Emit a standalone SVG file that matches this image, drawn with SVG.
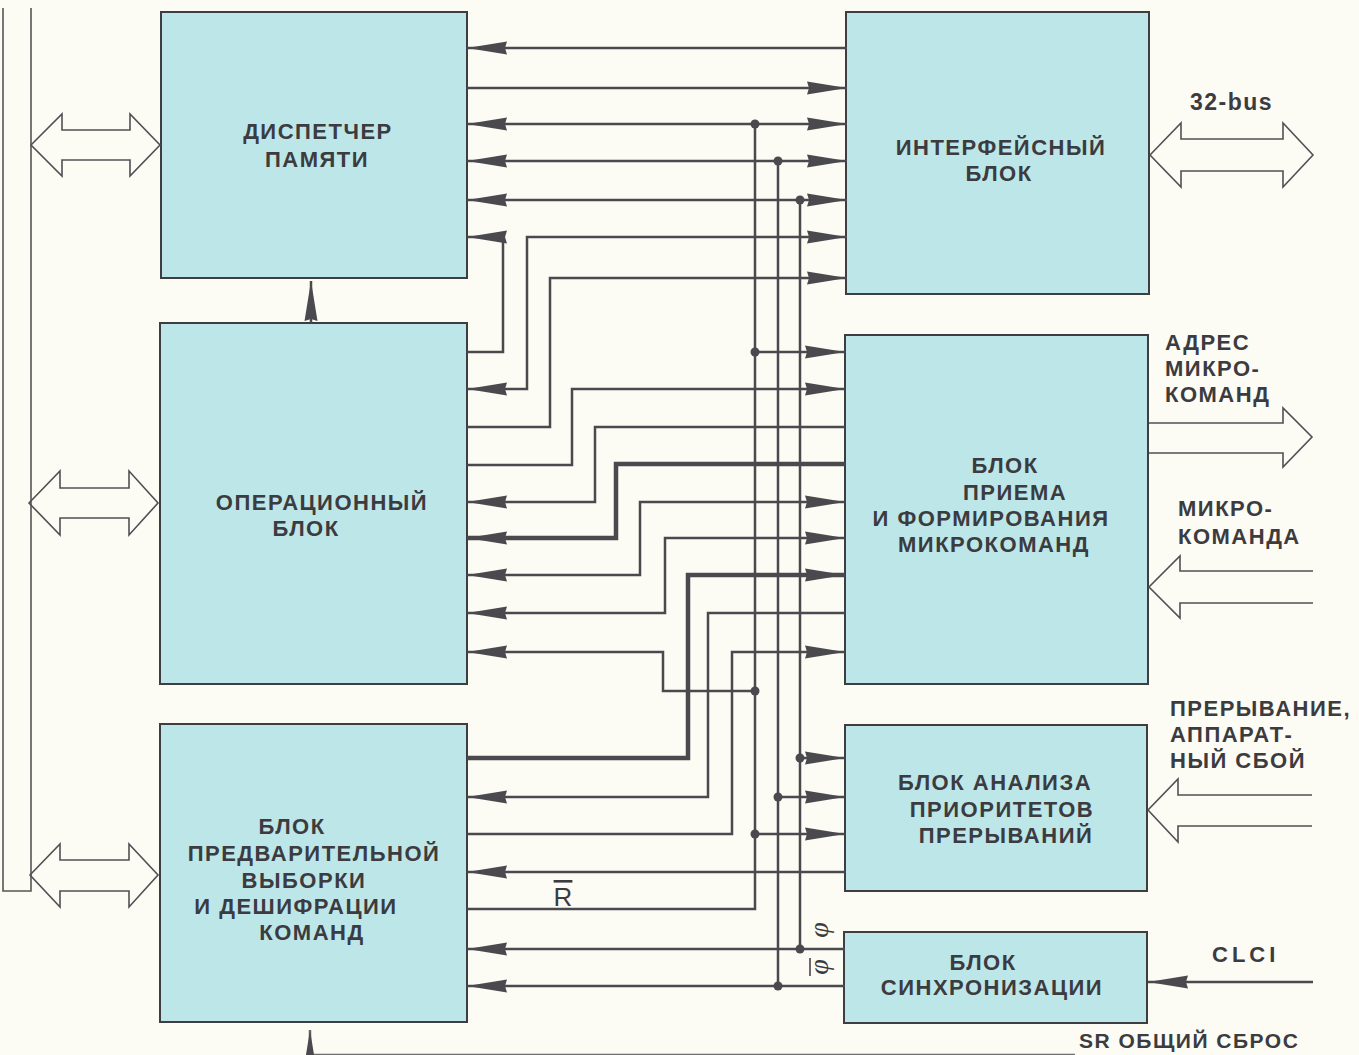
<svg xmlns="http://www.w3.org/2000/svg" width="1359" height="1055" viewBox="0 0 1359 1055">
<defs>
<style>
.box{fill:#bde6e8;stroke:#3e3e42;stroke-width:2}
.t{font-family:"Liberation Sans",Arial,sans-serif;font-weight:bold;font-size:22px;fill:#3b3b40;letter-spacing:1.5px}
.c{text-anchor:middle}
.w{fill:none;stroke:#4a4a4e;stroke-width:2.5}
.wt{fill:none;stroke:#4a4a4e;stroke-width:4.5}
.h{fill:none;stroke:#505054;stroke-width:1.6;stroke-linejoin:miter}
.bus{fill:none;stroke:#555;stroke-width:1.6}
.dot{fill:#4a4a4e}
.g{font-family:"Liberation Serif",serif;font-style:italic;font-size:28px;fill:#3b3b40}
</style>
<marker id="ar" markerUnits="userSpaceOnUse" viewBox="0 0 40 14" refX="40" refY="7" markerWidth="40" markerHeight="14" orient="auto-start-reverse">
<path d="M0,0.5 L40,7 L0,13.5 L2,7 Z" fill="#4a4a4e"/>
</marker>
</defs>
<rect width="1359" height="1055" fill="#fcfbf4"/>

<g id="left-bus">
<path class="bus" d="M3,8 V891 H31 V8"/>
</g>

<g id="n-memory">
<rect class="box" x="161" y="12" width="306" height="266"/>
<text class="t c" x="318" y="139">ДИСПЕТЧЕР</text>
<text class="t c" x="317" y="167">ПАМЯТИ</text>
</g>
<g id="n-operational">
<rect class="box" x="160" y="323" width="307" height="361"/>
<text class="t c" x="322" y="510">ОПЕРАЦИОННЫЙ</text>
<text class="t c" x="306" y="536">БЛОК</text>
</g>
<g id="n-prefetch">
<rect class="box" x="160" y="724" width="307" height="298"/>
<text class="t c" x="292" y="834">БЛОК</text>
<text class="t c" x="314" y="861">ПРЕДВАРИТЕЛЬНОЙ</text>
<text class="t c" x="304" y="888">ВЫБОРКИ</text>
<text class="t c" x="296" y="914">И ДЕШИФРАЦИИ</text>
<text class="t c" x="312" y="940">КОМАНД</text>
</g>
<g id="n-interface">
<rect class="box" x="846" y="12" width="303" height="282"/>
<text class="t c" x="1001" y="155">ИНТЕРФЕЙСНЫЙ</text>
<text class="t c" x="999" y="181">БЛОК</text>
</g>
<g id="n-microcmd">
<rect class="box" x="845" y="335" width="303" height="349"/>
<text class="t c" x="1005" y="473">БЛОК</text>
<text class="t c" x="1015" y="500">ПРИЕМА</text>
<text class="t c" x="991" y="526">И ФОРМИРОВАНИЯ</text>
<text class="t c" x="994" y="552">МИКРОКОМАНД</text>
</g>
<g id="n-priority">
<rect class="box" x="845" y="725" width="302" height="166"/>
<text class="t c" x="995" y="790">БЛОК АНАЛИЗА</text>
<text class="t c" x="1002" y="817">ПРИОРИТЕТОВ</text>
<text class="t c" x="1006" y="843">ПРЕРЫВАНИЙ</text>
</g>
<g id="n-sync">
<rect class="box" x="844" y="932" width="303" height="91"/>
<text class="t c" x="983" y="970">БЛОК</text>
<text class="t c" x="992" y="995">СИНХРОНИЗАЦИИ</text>
</g>

<g id="connectors">
<polygon class="h" points="31,145 62,114 62,130 130,130 130,114 160,145 130,176 130,160 62,160 62,176"/>
<polygon class="h" points="29,503 60,471 60,488 129,488 129,471 158,503 129,535 129,518 60,518 60,535"/>
<polygon class="h" points="30,875 60,844 60,860 129,860 129,844 158,875 129,907 129,891 60,891 60,907"/>
<polygon class="h" points="1150,155 1181,123 1181,139 1283,139 1283,123 1313,155 1283,187 1283,171 1181,171 1181,187"/>
<path class="h" d="M1149,423 H1283 V408 L1312,437 L1283,467 V453 H1149"/>
<path class="h" d="M1313,571 H1180 V556 L1149,587 L1180,618 V603 H1313"/>
<path class="h" d="M1312,795 H1178 V779 L1148,810 L1178,842 V826 H1312"/>

<path class="w" d="M847,48 H467" marker-end="url(#ar)"/>
<path class="w" d="M467,88 H847" marker-end="url(#ar)"/>
<path class="w" d="M467,124 H847" marker-start="url(#ar)" marker-end="url(#ar)"/>
<path class="w" d="M467,161 H847" marker-start="url(#ar)" marker-end="url(#ar)"/>
<path class="w" d="M467,200 H847" marker-start="url(#ar)" marker-end="url(#ar)"/>
<path class="w" d="M467,352 H503 V237 H467" marker-end="url(#ar)"/>
<path class="w" d="M467,389 H527 V237 H847" marker-start="url(#ar)" marker-end="url(#ar)"/>
<path class="w" d="M467,427 H550 V278 H847" marker-end="url(#ar)"/>
<path class="w" d="M311,323 V281" marker-end="url(#ar)"/>

<path class="w" d="M755,352 H845" marker-end="url(#ar)"/>
<path class="w" d="M467,465 H572 V389 H845" marker-end="url(#ar)"/>
<path class="w" d="M845,427 H595 V502 H467" marker-end="url(#ar)"/>
<path class="wt" d="M845,464 H616 V538 H467" marker-end="url(#ar)"/>
<path class="w" d="M467,575 H640 V502 H845" marker-start="url(#ar)" marker-end="url(#ar)"/>
<path class="w" d="M467,613 H665 V538 H845" marker-start="url(#ar)" marker-end="url(#ar)"/>
<path class="w" d="M755,691 H663 V652 H467" marker-end="url(#ar)"/>

<path class="wt" d="M467,758 H688 V575 H845" marker-end="url(#ar)"/>
<path class="w" d="M845,613 H708 V797 H467" marker-end="url(#ar)"/>
<path class="w" d="M467,834 H732 V652 H845" marker-end="url(#ar)"/>

<path class="w" d="M467,909 H755 V124"/>
<path class="w" d="M778,161 V986"/>
<path class="w" d="M800,200 V949"/>

<path class="w" d="M800,758 H845" marker-end="url(#ar)"/>
<path class="w" d="M778,797 H845" marker-end="url(#ar)"/>
<path class="w" d="M755,834 H845" marker-end="url(#ar)"/>
<path class="w" d="M845,872 H467" marker-end="url(#ar)"/>

<path class="w" d="M845,949 H467" marker-end="url(#ar)"/>
<path class="w" d="M845,986 H467" marker-end="url(#ar)"/>
<path class="w" d="M1313,982 H1148" marker-end="url(#ar)"/>
<path class="w" d="M1075,1055 H310 V1030" marker-end="url(#ar)" stroke-opacity="0.8"/>

<circle class="dot" cx="755" cy="124" r="4.5"/>
<circle class="dot" cx="778" cy="161" r="4.5"/>
<circle class="dot" cx="800" cy="200" r="4.5"/>
<circle class="dot" cx="755" cy="352" r="4.5"/>
<circle class="dot" cx="755" cy="691" r="4.5"/>
<circle class="dot" cx="800" cy="758" r="4.5"/>
<circle class="dot" cx="778" cy="797" r="4.5"/>
<circle class="dot" cx="755" cy="834" r="4.5"/>
<circle class="dot" cx="800" cy="949" r="4.5"/>
<circle class="dot" cx="778" cy="986" r="4.5"/>
</g>

<g id="labels">
<text x="563" y="906" style="font-family:'Liberation Sans',Arial,sans-serif;font-size:26px;fill:#3b3b40;text-decoration:overline" text-anchor="middle">R</text>
<text class="g" transform="translate(828,930) rotate(-90)" text-anchor="middle">φ</text>
<text class="g" transform="translate(828,967) rotate(-90)" text-anchor="middle">φ</text>
<line x1="810" y1="958" x2="810" y2="976" stroke="#3b3b40" stroke-width="1.5"/>
<text class="t" x="1190" y="110" style="font-size:23px">32-bus</text>
<text class="t" x="1165" y="350">АДРЕС</text>
<text class="t" x="1165" y="376">МИКРО-</text>
<text class="t" x="1165" y="402">КОМАНД</text>
<text class="t" x="1178" y="516">МИКРО-</text>
<text class="t" x="1178" y="544">КОМАНДА</text>
<text class="t" x="1170" y="716">ПРЕРЫВАНИЕ,</text>
<text class="t" x="1170" y="742">АППАРАТ-</text>
<text class="t" x="1170" y="768">НЫЙ СБОЙ</text>
<text class="t" x="1212" y="962" style="letter-spacing:4px">CLCI</text>
<text class="t" x="1079" y="1048" style="font-size:21px">SR ОБЩИЙ СБРОС</text>
</g>
</svg>
